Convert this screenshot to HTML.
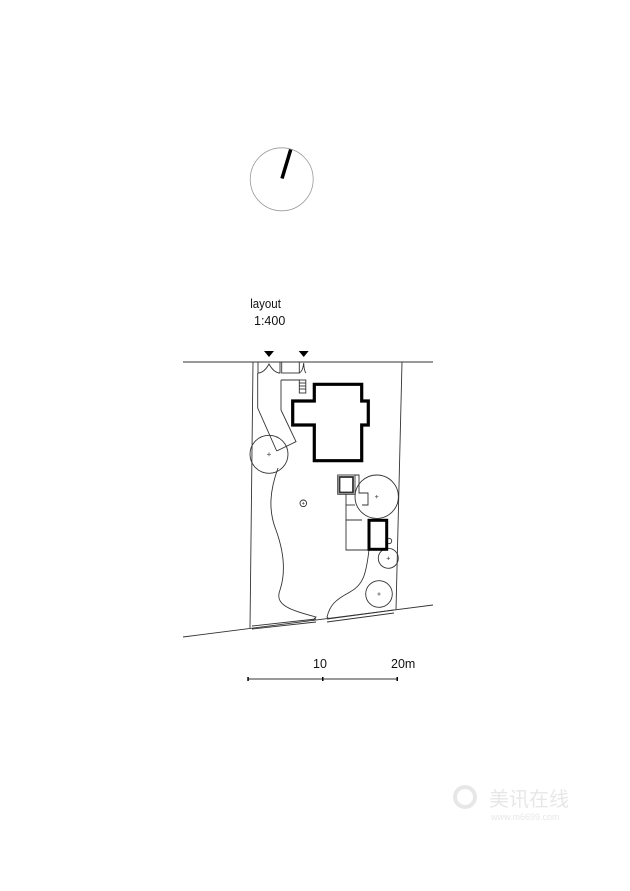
<!DOCTYPE html>
<html><head><style>
html,body{margin:0;padding:0;background:#fff;}
svg{display:block;}
text{font-family:"Liberation Sans",sans-serif;fill:#111;}
</style></head><body>
<svg width="630" height="891" viewBox="0 0 630 891" xmlns="http://www.w3.org/2000/svg">
<!-- compass -->
<circle cx="281.7" cy="179.3" r="31.5" fill="none" stroke="#999" stroke-width="0.8"/>
<line x1="290.7" y1="149.5" x2="282" y2="178.5" stroke="#000" stroke-width="3.5"/>
<text x="251" y="308" font-size="12.5" transform="scale(0.92,1) translate(21,0)">layout</text>
<text x="254" y="325" font-size="12.5">1:400</text>

<g fill="none" stroke="#333" stroke-width="0.9">
<!-- site lines -->
<line x1="183" y1="362" x2="433" y2="362"/>
<line x1="253" y1="362" x2="250" y2="628"/>
<line x1="402" y1="362" x2="396" y2="610"/>
<line x1="183" y1="637" x2="433" y2="605"/>
<!-- gates -->
<path d="M258 362 L258 373 Q264 373 269 364 Q274 373 280 373 L280 362"/>
<rect x="281.7" y="362" width="17.6" height="11"/>
<path d="M299.3 373 Q303 371 303.7 363 Q304 371 306 373"/>
<!-- driveway -->
<polyline points="257.7,373 257.7,408 276.7,451"/>
<polyline points="281,380 281,410 296,441.7 276.7,451"/>
<line x1="281" y1="380" x2="299.3" y2="380"/>
<rect x="299.3" y="380" width="6.5" height="13"/>
<line x1="299.3" y1="383" x2="305.8" y2="383"/>
<line x1="299.3" y1="386" x2="305.8" y2="386"/>
<line x1="299.3" y1="389" x2="305.8" y2="389"/>
<!-- trees -->
<circle cx="269" cy="454.3" r="19"/>
<circle cx="303.3" cy="503.3" r="3.3"/>
<circle cx="376.7" cy="496.7" r="21.7"/>
<circle cx="389" cy="541" r="2.7"/>
<circle cx="388.3" cy="558.3" r="10"/>
<circle cx="379" cy="594" r="13.3"/>
<!-- wavy paths -->
<path d="M278 468 C270 490 268 510 276 530 C285 555 285 575 280 590 C274 605 290 610 316 617 L313 620"/>
<path d="M369 550 C366 575 363 585 350 592 C335 600 330 605 327 617 L329 619"/>
<!-- terrace shapes -->
<rect x="337.7" y="475" width="17.3" height="19.3"/>
<path d="M355 475 L359 475 L359 493 L368 493 L368 505 L362 505"/>
<path d="M346 494.3 L346 520 L362 520 M346 520 L346 550 L369 550"/>
<line x1="346" y1="505" x2="355" y2="505"/>
<!-- bottom gate bars -->
<path d="M252 626 L316 619 M252 629 L316 622"/>
<path d="M327 619 L394 610 M327 622 L394 613"/>
<!-- scale -->
<line x1="248" y1="679" x2="398" y2="679"/>
</g>
<rect x="339.5" y="477" width="13.5" height="15.5" fill="none" stroke="#333" stroke-width="1.8"/>
<g fill="#000">
<polygon points="264,351 274,351 269,357"/>
<polygon points="298.7,351 308.7,351 303.7,357"/>
<rect x="247.3" y="677" width="1.5" height="4"/>
<rect x="322" y="677" width="1.5" height="4"/>
<rect x="396.5" y="677" width="1.5" height="4"/>
</g>
<g fill="none" stroke="#555" stroke-width="0.7">
<line x1="267" y1="454.3" x2="271" y2="454.3"/><line x1="269" y1="452.3" x2="269" y2="456.3"/>
<line x1="302" y1="503.3" x2="304.6" y2="503.3"/><line x1="303.3" y1="502" x2="303.3" y2="504.6"/>
<line x1="375" y1="496.7" x2="378.4" y2="496.7"/><line x1="376.7" y1="495" x2="376.7" y2="498.4"/>
<line x1="386.6" y1="558.3" x2="390" y2="558.3"/><line x1="388.3" y1="556.6" x2="388.3" y2="560"/>
<line x1="377.3" y1="594" x2="380.7" y2="594"/><line x1="379" y1="592.3" x2="379" y2="595.7"/>
</g>
<!-- house -->
<path d="M314.3 384.3 L361.7 384.3 L361.7 401 L368.3 401 L368.3 425 L361.7 425 L361.7 460.7 L314.3 460.7 L314.3 425 L292.7 425 L292.7 401 L314.3 401 Z" fill="none" stroke="#000" stroke-width="3.2"/>
<rect x="369" y="520.3" width="17.7" height="29" fill="none" stroke="#000" stroke-width="3"/>
<text x="313" y="668" font-size="12.5">10</text>
<text x="391" y="668" font-size="12.5">20m</text>
<!-- watermark -->
<g opacity="0.35">
<circle cx="465" cy="797" r="10" fill="none" stroke="#bbb" stroke-width="4"/>
<text x="489" y="806" font-size="20" fill="#ccc" style="font-family:'Liberation Sans','Noto Sans CJK SC',sans-serif;fill:#bbb">美讯在线</text>
<text x="491" y="820" font-size="9" style="fill:#bbb">www.m6699.com</text>
</g>
</svg>
</body></html>
